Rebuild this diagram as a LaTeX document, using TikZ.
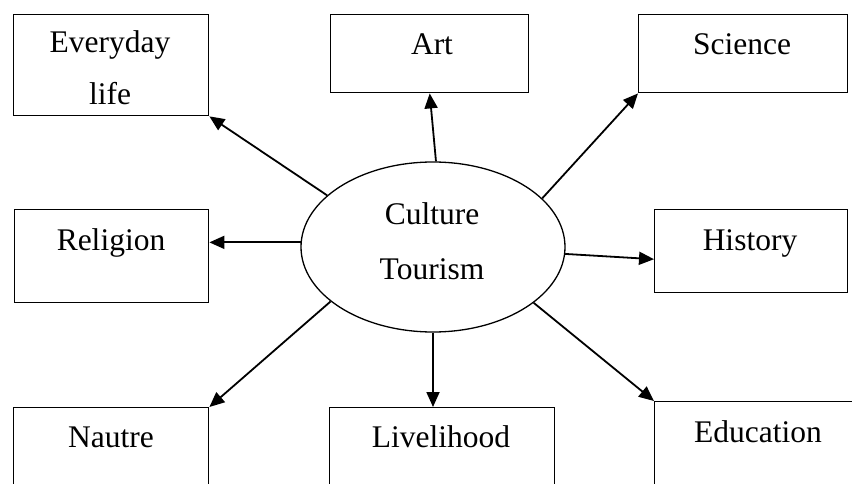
\documentclass[tikz,border=0pt]{standalone}
\usepackage{fontspec}
\setmainfont{Liberation Serif}
\usetikzlibrary{arrows.meta,calc,shapes.geometric}
\begin{document}
\begin{tikzpicture}[x=1pt,y=-1pt,
  box/.style={draw,line width=1.4pt,rectangle,anchor=north west,inner sep=0pt},
  lbl/.style={anchor=base,inner sep=0pt,font=\fontsize{31.5}{36}\selectfont},
  conn/.style={line width=1.8pt,-{Triangle[length=15pt,width=13pt]}}]
\clip (0,0) rectangle (852,484);
\fill[white] (0,0) rectangle (852,484);
% boxes
\node[box,minimum width=195pt,minimum height=101pt] (ev) at (13,14) {};
\node[box,minimum width=198pt,minimum height=78pt] (art) at (330,14) {};
\node[box,minimum width=209pt,minimum height=78pt] (sci) at (638,14) {};
\node[box,minimum width=194pt,minimum height=93pt] (rel) at (14,209) {};
\node[box,minimum width=193pt,minimum height=83pt] (hist) at (654,209) {};
\node[box,minimum width=195pt,minimum height=110pt] (nau) at (13,407) {};
\node[box,minimum width=225pt,minimum height=110pt] (live) at (329,407) {};
\node[box,minimum width=220pt,minimum height=110pt] (edu) at (654,401) {};
% centre
\node[draw,ellipse,line width=1.3pt,minimum width=264pt,minimum height=170pt,inner sep=0pt] (ell) at (433,247) {};
% labels
\node[lbl] (tev1) at (110,53) {Everyday};
\node[lbl] (tev2) at (110,105) {life};
\node[lbl] (tart) at (432,55) {Art};
\node[lbl] (tsci) at (742,55) {Science};
\node[lbl] (trel) at (111,251) {Religion};
\node[lbl] (thist) at (750,251) {History};
\node[lbl] (tcul) at (432,225) {Culture};
\node[lbl] (ttou) at (432,279) {Tourism};
\node[lbl] (tnau) at (111,447) {Nautre};
\node[lbl] (tlive) at (441,447) {Livelihood};
\node[lbl] (tedu) at (758,442) {Education};
% connectors
\draw[conn] (ell.154) -- (ev.south east);
\draw[conn] (ell.88) -- (art.south);
\draw[conn] (ell.24) -- (sci.south west);
\draw[conn] (ell.178) -- (rel.east |- ell.178);
\draw[conn] (ell.-3) -- ($(hist.west)+(0,8)$);
\draw[conn] (ell.208) -- (nau.north east);
\draw[conn] (ell.south) -- (live.north -| ell.south);
\draw[conn] (ell.-29.5) -- (edu.north west);
\end{tikzpicture}
\end{document}
